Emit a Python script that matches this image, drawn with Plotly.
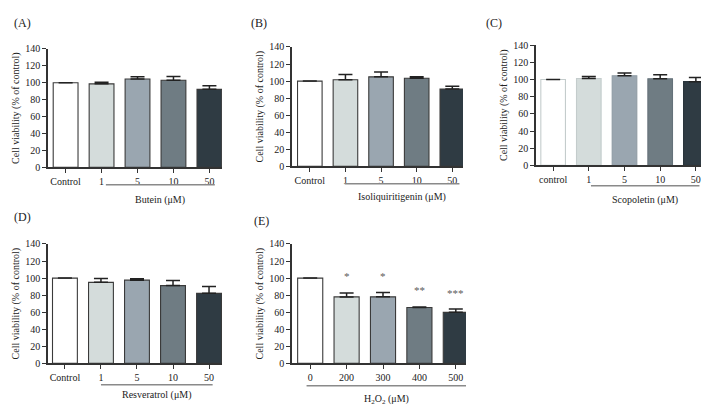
import plotly.graph_objects as go

W, H = 709, 405

# ---------------- data ----------------
labels_A = ["Control", "1", "5", "10", "50"]
vals_A = [100, 98.7, 104.4, 102.9, 92.2]
err_A = [None, 1.9, 2.7, 4.6, 4.2]

labels_B = ["Control", "1", "5", "10", "50"]
vals_B = [100, 101.5, 105.0, 103.4, 90.8]
err_B = [None, 6.1, 5.7, 1.6, 3.1]

labels_C = ["control", "1", "5", "10", "50"]
vals_C = [100, 101.1, 104.2, 100.8, 97.4]
err_C = [None, 2.3, 3.3, 4.5, 4.9]

labels_D = ["Control", "1", "5", "10", "50"]
vals_D = [100, 95.0, 97.6, 91.2, 82.1]
err_D = [None, 4.5, 1.5, 6.0, 7.9]

labels_E = ["0", "200", "300", "400", "500"]
vals_E = [100, 77.9, 78.0, 65.5, 59.8]
err_E = [None, 4.6, 5.2, 0.7, 3.8]
stars_E = ["", "*", "*", "**", "***"]
stars_y_E = [None, 102, 102, 86, 82]

panel_letters = ["(A)", "(B)", "(C)", "(D)", "(E)"]
group_labels = ["Butein (μM)", "Isoliquiritigenin (μM)", "Scopoletin (μM)",
                "Resveratrol (μM)", "H<sub>2</sub>O<sub>2</sub> (μM)"]
y_title = "Cell viability (% of control)"
y_ticks = [0, 20, 40, 60, 80, 100, 120, 140]

bar_colors = ["#ffffff", "#d4dcdb", "#9aa6b0", "#6f7c83", "#2f3b43"]

# ---------------- layout geometry (pixels) ----------------
# x0, x1, y_bottom, y_top, xrange lo, hi
geo = [
    (40, 214, 158, 36, -0.49, 4.35),
    (284, 455, 157, 34, -0.50, 4.30),
    (528, 700, 156, 32, -0.48, 4.34),
    (40, 214, 360, 237, -0.47, 4.36),
    (284, 458, 360, 237, -0.50, 4.28),
]
letter_pos = [(4, 9), (241, 9), (476, 9), (4, 209), (244, 213)]
under = [(1.12, 4.15, 176, 192), (0.98, 4.2, 175, 189), (1.06, 4.1, 177, 192),
         (1.0, 4.1, 382, 393), (-0.1, 4.3, 383, 397)]

datasets = [
    (labels_A, vals_A, err_A),
    (labels_B, vals_B, err_B),
    (labels_C, vals_C, err_C),
    (labels_D, vals_D, err_D),
    (labels_E, vals_E, err_E),
]

FONT = "Liberation Serif"
fig = go.Figure()
layout = dict(width=W, height=H, margin=dict(l=0, r=0, t=0, b=0),
              paper_bgcolor="white", plot_bgcolor="white", showlegend=False,
              font=dict(family=FONT, size=10, color="#222"))
annotations = []
shapes = []

for i, ((labels, vals, errs), g) in enumerate(zip(datasets, geo)):
    x0, x1, yb, yt, lo, hi = g
    n = "" if i == 0 else str(i + 1)
    xa, ya = "x" + n, "y" + n
    if i == 2:
        line_cols = ["#c4cccc", "#c4cccc", "#8f9ba4", "#65727a", "#2a353c"]
    else:
        line_cols = ["#3a3a3a"] * 5
    fig.add_trace(go.Bar(
        x=list(range(len(labels))), y=vals, xaxis=xa, yaxis=ya,
        width=0.69,
        marker=dict(color=bar_colors, line=dict(color=line_cols, width=1.1)),
        error_y=dict(type="data", symmetric=False, array=errs,
                     arrayminus=[0 if e is not None else None for e in errs],
                     color="#222", thickness=1.5, width=7, visible=True),
        hoverinfo="skip",
    ))
    layout["xaxis" + n] = dict(
        domain=[x0 / W, x1 / W], anchor=ya, range=[lo, hi],
        tickvals=list(range(len(labels))), ticktext=labels,
        showline=True, linecolor="#333", linewidth=1.5,
        ticks="outside", ticklen=4, tickcolor="#333", tickwidth=1.2,
        showgrid=False, zeroline=False, fixedrange=True,
        tickfont=dict(family=FONT, size=10, color="#222"),
    )
    layout["yaxis" + n] = dict(
        domain=[(H - yb) / H, (H - yt) / H], anchor=xa, range=[0, 140],
        tickvals=y_ticks, showline=True, linecolor="#333", linewidth=1.5,
        ticks="outside", ticklen=4, tickcolor="#333", tickwidth=1.2,
        showgrid=False, zeroline=False, fixedrange=True,
        tickfont=dict(family=FONT, size=10, color="#222"),
        title=dict(text=y_title, font=dict(family=FONT, size=10, color="#222"),
                   standoff=4),
    )
    lx, ly = letter_pos[i]
    annotations.append(dict(text=panel_letters[i], xref="paper", yref="paper",
                            x=lx / W, y=1 - ly / H, xanchor="left", yanchor="middle",
                            showarrow=False, font=dict(family=FONT, size=12, color="#222")))
    u0, u1, uy, gy = under[i]
    shapes.append(dict(type="line", xref=xa, yref="paper", x0=u0, x1=u1,
                       y0=1 - uy / H, y1=1 - uy / H,
                       line=dict(color="#8a8a8a", width=1.5)))
    annotations.append(dict(text=group_labels[i], xref=xa, yref="paper",
                            x=(u0 + u1) / 2, y=1 - gy / H, xanchor="center",
                            yanchor="middle", showarrow=False,
                            font=dict(family=FONT, size=10, color="#222")))

# significance stars on panel E
for k, (s, sy) in enumerate(zip(stars_E, stars_y_E)):
    if s:
        annotations.append(dict(text=s, xref="x5", yref="y5", x=k, y=sy,
                                xanchor="center", yanchor="middle", showarrow=False,
                                font=dict(family=FONT, size=11, color="#5a5a5a")))

layout["annotations"] = annotations
layout["shapes"] = shapes
fig.update_layout(**layout)
fig.write_html("out.html")
